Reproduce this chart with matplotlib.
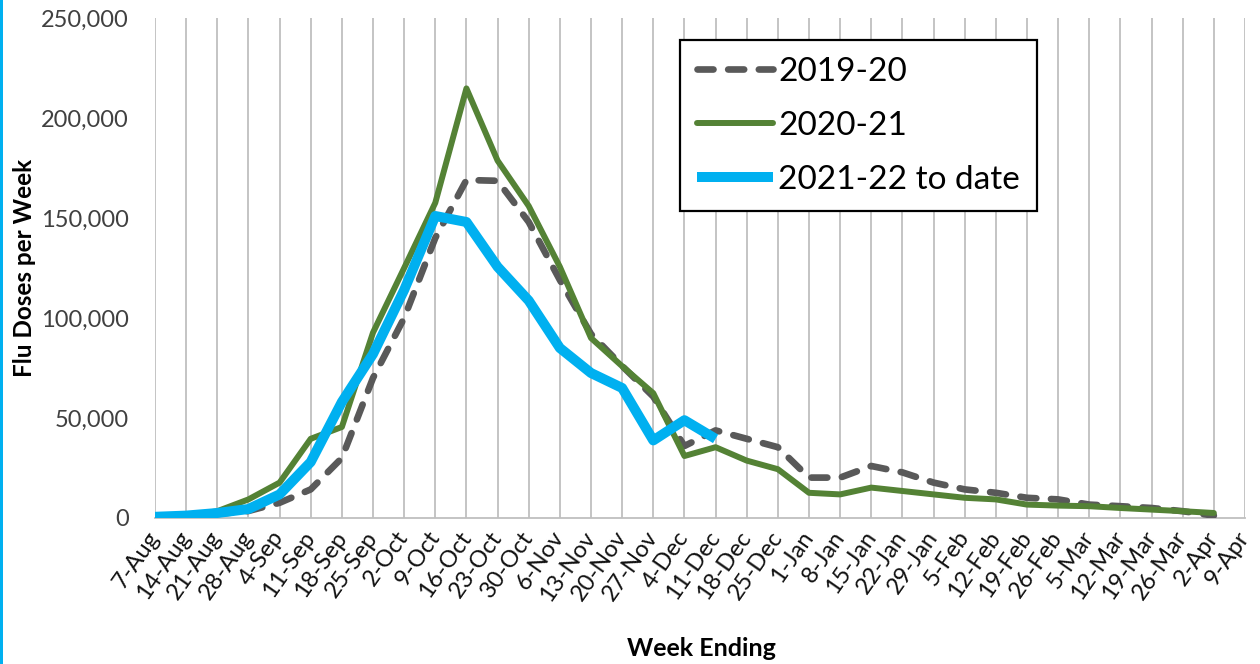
import matplotlib
matplotlib.use("Agg")
import matplotlib.pyplot as plt
from matplotlib.patches import Rectangle
from matplotlib.ticker import FuncFormatter

plt.rcParams['font.family'] = ['Lato', 'DejaVu Sans']

# week-ending categories
weeks = ['7-Aug', '14-Aug', '21-Aug', '28-Aug', '4-Sep', '11-Sep', '18-Sep', '25-Sep',
         '2-Oct', '9-Oct', '16-Oct', '23-Oct', '30-Oct', '6-Nov', '13-Nov', '20-Nov',
         '27-Nov', '4-Dec', '11-Dec', '18-Dec', '25-Dec', '1-Jan', '8-Jan', '15-Jan',
         '22-Jan', '29-Jan', '5-Feb', '12-Feb', '19-Feb', '26-Feb', '5-Mar', '12-Mar',
         '19-Mar', '26-Mar', '2-Apr', '9-Apr']

# flu doses per week
doses_1920 = [500, 1000, 2000, 3500, 7600, 14300, 30000, 70000, 100000, 140000,
              169000, 168600, 148000, 119000, 92000, 76000, 60700, 36000, 43800,
              39600, 35400, 20200, 20200, 26000, 22800, 17700, 14300, 12600, 10100,
              9300, 6700, 5900, 5000, 3400, 1200]
doses_2021 = [500, 1000, 3400, 9300, 17700, 39600, 45500, 92700, 125000, 157600,
              214800, 178700, 156000, 125600, 90000, 75900, 62400, 31000, 35400,
              28700, 24400, 12600, 11800, 15200, 13500, 11800, 10100, 9300, 6700,
              6200, 5900, 5000, 4200, 3400, 2500]
doses_2122 = [600, 1200, 2500, 4500, 11800, 28000, 58000, 82000, 114000, 151000,
              148000, 125600, 108700, 85000, 72500, 65000, 38800, 48900, 39600]

series_labels = ['2019-20', '2020-21', '2021-22 to date']

fig = plt.figure(figsize=(12.6, 6.64), dpi=100)
ax = fig.add_axes([155 / 1260, 146 / 664, 1090 / 1260, 500 / 664])

ax.plot(range(len(doses_1920)), doses_1920, color='#595959', lw=4.8,
        linestyle=(0, (2.4, 2.2)), dash_capstyle='round', solid_joinstyle='round',
        label=series_labels[0], zorder=3)
ax.plot(range(len(doses_2021)), doses_2021, color='#548235', lw=4.3,
        solid_capstyle='round', solid_joinstyle='round', label=series_labels[1], zorder=4)
ax.plot(range(len(doses_2122)), doses_2122, color='#00B0F0', lw=7.2,
        solid_capstyle='butt', solid_joinstyle='round', label=series_labels[2], zorder=5)

ax.set_xlim(0, len(weeks) - 1)
ax.set_ylim(0, 250000)
ax.set_xticks(range(len(weeks)))
ax.set_xticklabels(weeks, rotation=55, ha='right', va='center', rotation_mode='anchor',
                   fontsize=17, color='#111111')
ax.set_yticks(range(0, 250001, 50000))
ax.yaxis.set_major_formatter(FuncFormatter(lambda v, p: f"{int(v):,}"))
ax.tick_params(axis='y', length=0, pad=19, labelsize=17, labelcolor='#404040')
ax.tick_params(axis='x', length=0, pad=11)

ax.grid(axis='x', color='#BFBFBF', lw=1.3, zorder=0)
ax.grid(axis='y', visible=False)
for side in ['top', 'right', 'left']:
    ax.spines[side].set_visible(False)
ax.spines['bottom'].set_color('#BFBFBF')
ax.spines['bottom'].set_linewidth(1.3)

fig.text(25 / 1260, 1 - 268 / 664, 'Flu Doses per Week', rotation=90, ha='center',
         va='center', fontsize=17.5, fontweight='bold')
fig.text(701 / 1260, 1 - 649 / 664, 'Week Ending', ha='center', va='center',
         fontsize=18, fontweight='bold')

leg = ax.legend(loc='upper left', bbox_to_anchor=(680 / 1260, 1 - 40 / 664),
                bbox_transform=fig.transFigure, fontsize=24, frameon=True,
                fancybox=False, framealpha=1, edgecolor='black', handlelength=2.3,
                handletextpad=0.15, borderpad=0.5, labelspacing=0.72,
                borderaxespad=0)
leg.get_frame().set_linewidth(1.6)

# cyan strip at the left edge of the screenshot
fig.add_artist(Rectangle((0, 0), 3 / 1260, 1, transform=fig.transFigure,
                         color='#00B0F0', lw=0))

fig.savefig('out.png', dpi=100)
